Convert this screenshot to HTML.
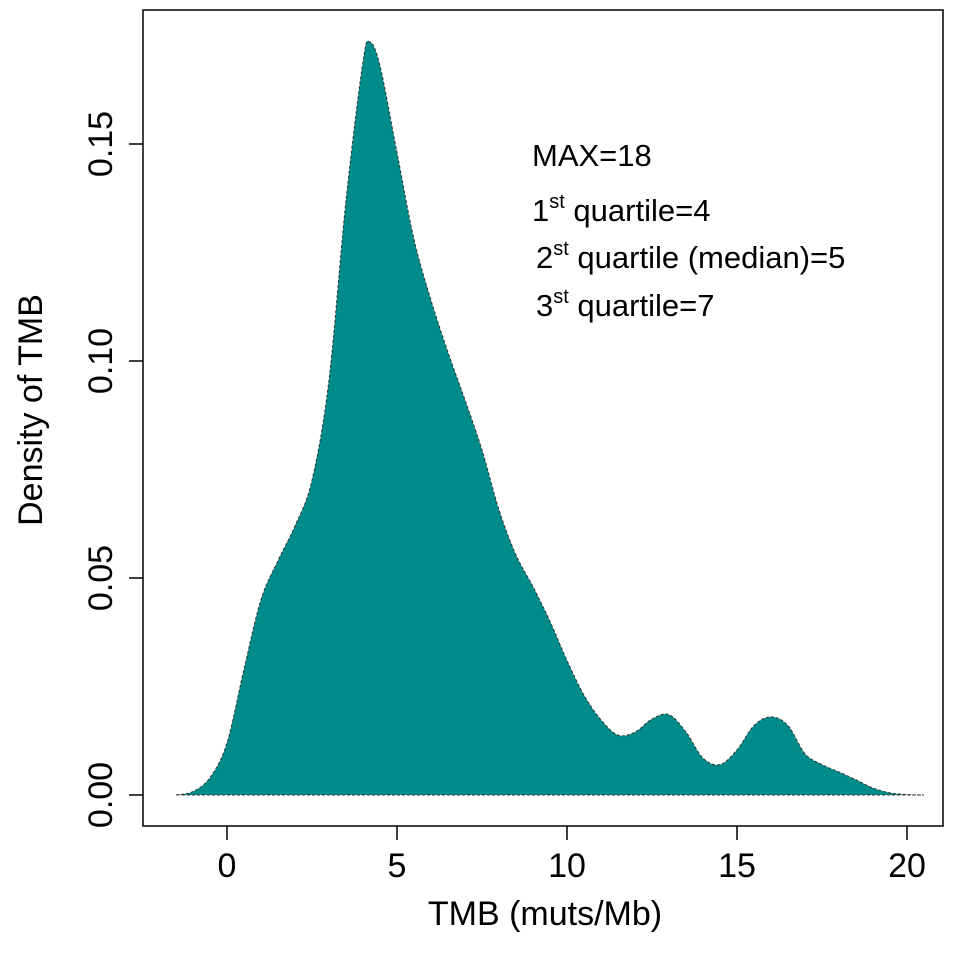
<!DOCTYPE html>
<html><head><meta charset="utf-8"><style>
body{margin:0;background:#fff}
svg text{font-family:"Liberation Sans",sans-serif;fill:#000}
</style></head><body>
<svg width="969" height="948" xmlns="http://www.w3.org/2000/svg">
<rect x="143" y="10" width="800" height="816" fill="none" stroke="#000" stroke-width="1.5"/>
<g id="marks"></g>
<g id="axes"></g>
<text x="545" y="925" font-size="34" text-anchor="middle">TMB (muts/Mb)</text>
<text transform="translate(42,410) rotate(-90)" font-size="34" text-anchor="middle">Density of TMB</text>
<g font-size="31">
<text x="532" y="166">MAX=18</text>
<text x="532" y="221">1<tspan font-size="20" dy="-13">st</tspan><tspan dy="13"> quartile=4</tspan></text>
<text x="536" y="268">2<tspan font-size="20" dy="-13">st</tspan><tspan dy="13"> quartile (median)=5</tspan></text>
<text x="536" y="316">3<tspan font-size="20" dy="-13">st</tspan><tspan dy="13"> quartile=7</tspan></text>
</g>
</svg>
<script>
const xs=[-1.5,-1,-0.5,0,0.5,1,1.5,2,2.5,3,3.5,4,4.2,4.5,5,5.5,6,6.5,7,7.5,8,8.5,9,9.5,10,10.5,11,11.5,12,12.5,13,13.5,14,14.5,15,15.5,16,16.5,17,17.5,18,18.5,19,19.5,20,20.5];
const density=[0,0.0008,0.004,0.012,0.029,0.045,0.054,0.062,0.0725,0.0956,0.137,0.169,0.1735,0.168,0.148,0.128,0.114,0.102,0.091,0.0795,0.0657,0.0553,0.048,0.040,0.031,0.023,0.0173,0.0138,0.0145,0.0175,0.0185,0.0145,0.0085,0.007,0.0104,0.016,0.018,0.016,0.0095,0.007,0.0053,0.0035,0.0016,0.0005,0.0001,0];
const xTicks=[0,5,10,15,20];
const yTicks=[0,0.05,0.10,0.15];
const yTickLabels=["0.00","0.05","0.10","0.15"];
const X=v=>227+v*34;
const Y=v=>795-v*4340;
const ns="http://www.w3.org/2000/svg";
const marks=document.getElementById('marks'),axes=document.getElementById('axes');
let pts=xs.map((x,i)=>[X(x),Y(density[i])]);
let d="M"+pts[0][0]+","+pts[0][1];
for(let i=0;i<pts.length-1;i++){
 const p0=pts[Math.max(0,i-1)],p1=pts[i],p2=pts[i+1],p3=pts[Math.min(pts.length-1,i+2)];
 d+=" C"+(p1[0]+(p2[0]-p0[0])/6)+","+(p1[1]+(p2[1]-p0[1])/6)+" "+(p2[0]-(p3[0]-p1[0])/6)+","+(p2[1]-(p3[1]-p1[1])/6)+" "+p2[0]+","+p2[1];
}
const area=document.createElementNS(ns,'path');
area.setAttribute('d',d+" Z");
area.setAttribute('fill','#008b8b');
area.setAttribute('stroke','#333');
area.setAttribute('stroke-width','1');
area.setAttribute('stroke-dasharray','3,2');


marks.appendChild(area);
function mk(tag,attrs){const e=document.createElementNS(ns,tag);for(const k in attrs)e.setAttribute(k,attrs[k]);return e;}
xTicks.forEach(t=>{
 const l=mk('line',{x1:X(t),x2:X(t),y1:826,y2:840,stroke:'#000','stroke-width':1.5});
 
 
 axes.appendChild(l);
 const tx=mk('text',{x:X(t),y:877,'font-size':34,'text-anchor':'middle'});
 tx.textContent=t;
 
 
 axes.appendChild(tx);
});
yTicks.forEach((t,i)=>{
 const l=mk('line',{x1:129,x2:143,y1:Y(t),y2:Y(t),stroke:'#000','stroke-width':1.5});
 
 
 axes.appendChild(l);
 const tx=mk('text',{transform:`translate(112,${Y(t)}) rotate(-90)`,'font-size':34,'text-anchor':'middle'});
 tx.textContent=yTickLabels[i];
 
 
 axes.appendChild(tx);
});
</script>
</body></html>
